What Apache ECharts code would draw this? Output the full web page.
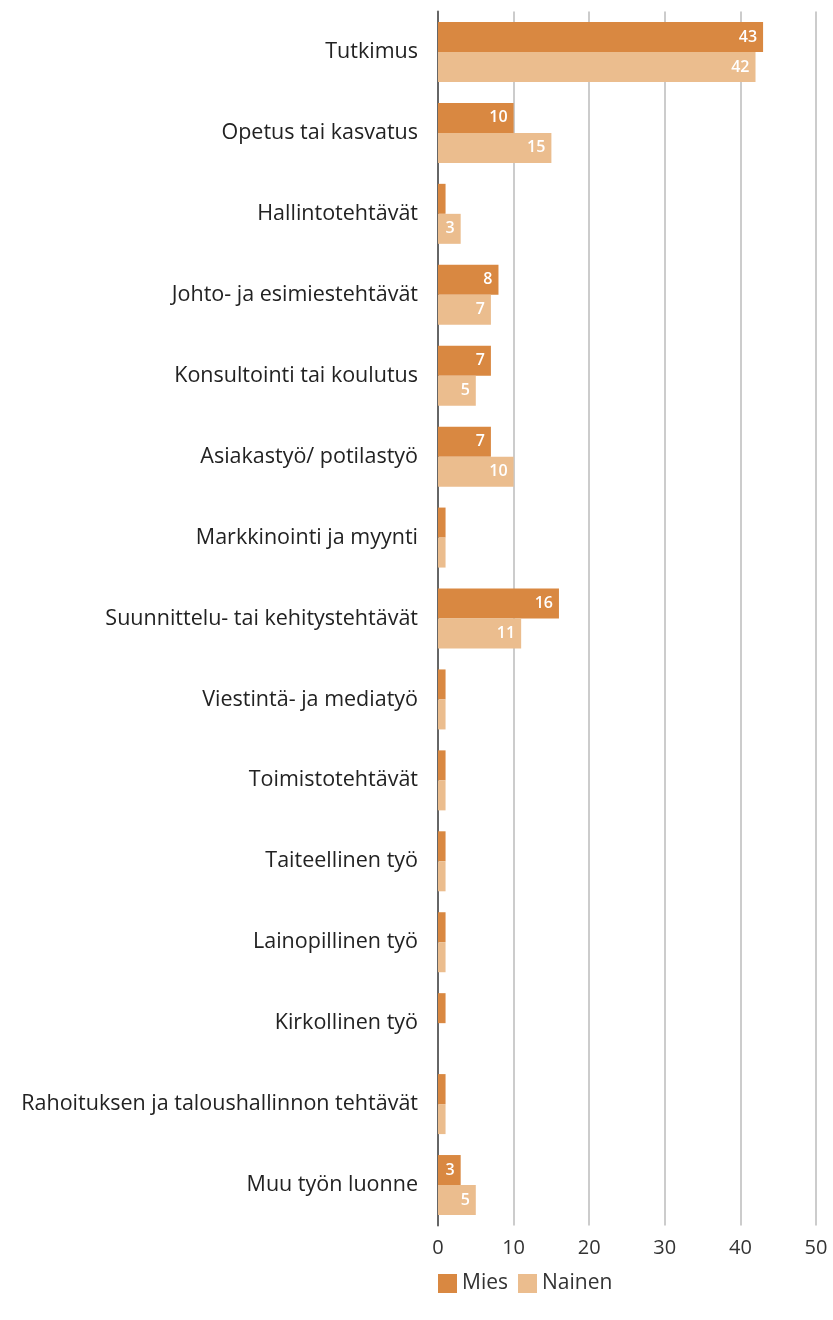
<!DOCTYPE html>
<html>
<head>
<meta charset="utf-8">
<script src="https://cdn.jsdelivr.net/npm/echarts@6/dist/echarts.min.js"></script>
<style>
  html, body { margin: 0; padding: 0; background: #fff; }
</style>
</head>
<body>
<div id="main" style="width: 833px;height:1320px;"></div>
<script>
const categories = [
  'Tutkimus',
  'Opetus tai kasvatus',
  'Hallintotehtävät',
  'Johto- ja esimiestehtävät',
  'Konsultointi tai koulutus',
  'Asiakastyö/ potilastyö',
  'Markkinointi ja myynti',
  'Suunnittelu- tai kehitystehtävät',
  'Viestintä- ja mediatyö',
  'Toimistotehtävät',
  'Taiteellinen työ',
  'Lainopillinen työ',
  'Kirkollinen työ',
  'Rahoituksen ja taloushallinnon tehtävät',
  'Muu työn luonne'
];
const miesValues = [43, 10, 1, 8, 7, 7, 1, 16, 1, 1, 1, 1, 1, 1, 3];
const nainenValues = [42, 15, 3, 7, 5, 10, 1, 11, 1, 1, 1, 1, 0, 1, 5];
const xTicks = [0, 10, 20, 30, 40, 50];

let chartDom = document.getElementById('main');
let myChart = echarts.init(chartDom);
let font = '"Open Sans", "Noto Sans", sans-serif';

// small bars (value 1) carry no label in the original
let barLabel = {
  show: true,
  position: 'insideRight',
  color: '#fff',
  fontSize: 16,
  fontWeight: 600,
  fontFamily: font,
  distance: 6,
  formatter: p => (p.value > 1 ? p.value : '')
};

let option = {
  animation: false,
  grid: {
    left: 438,
    right: 17,
    top: 11.5,
    bottom: 94.5,
    containLabel: false
  },
  legend: {
    data: ['Mies', 'Nainen'],
    left: 433,
    top: 1268,
    itemWidth: 19,
    itemHeight: 19,
    itemGap: 10,
    icon: 'rect',
    textStyle: { fontSize: 21, color: '#333', fontFamily: font }
  },
  xAxis: {
    type: 'value',
    min: 0,
    max: 50,
    interval: 10,
    axisLine: { show: false },
    axisTick: { show: false },
    splitLine: { lineStyle: { color: '#cccccc', width: 2 } },
    axisLabel: {
      fontSize: 20,
      color: '#333',
      fontFamily: font,
      margin: 13,
      formatter: v => (xTicks.indexOf(v) >= 0 ? v : '')
    }
  },
  yAxis: {
    type: 'category',
    inverse: true,
    data: categories,
    axisLine: { show: true, lineStyle: { color: '#666', width: 2 } },
    axisTick: { show: false },
    axisLabel: {
      fontSize: 21.5,
      color: '#222',
      fontFamily: font,
      margin: 20
    }
  },
  series: [
    {
      name: 'Mies',
      type: 'bar',
      data: miesValues,
      barWidth: 30,
      barGap: '0%',
      itemStyle: { color: '#d98841' },
      label: barLabel
    },
    {
      name: 'Nainen',
      type: 'bar',
      data: nainenValues,
      barWidth: 30,
      barGap: '0%',
      itemStyle: { color: '#ebbd8e' },
      label: barLabel
    }
  ]
};

option && myChart.setOption(option);
</script>
</body>
</html>
